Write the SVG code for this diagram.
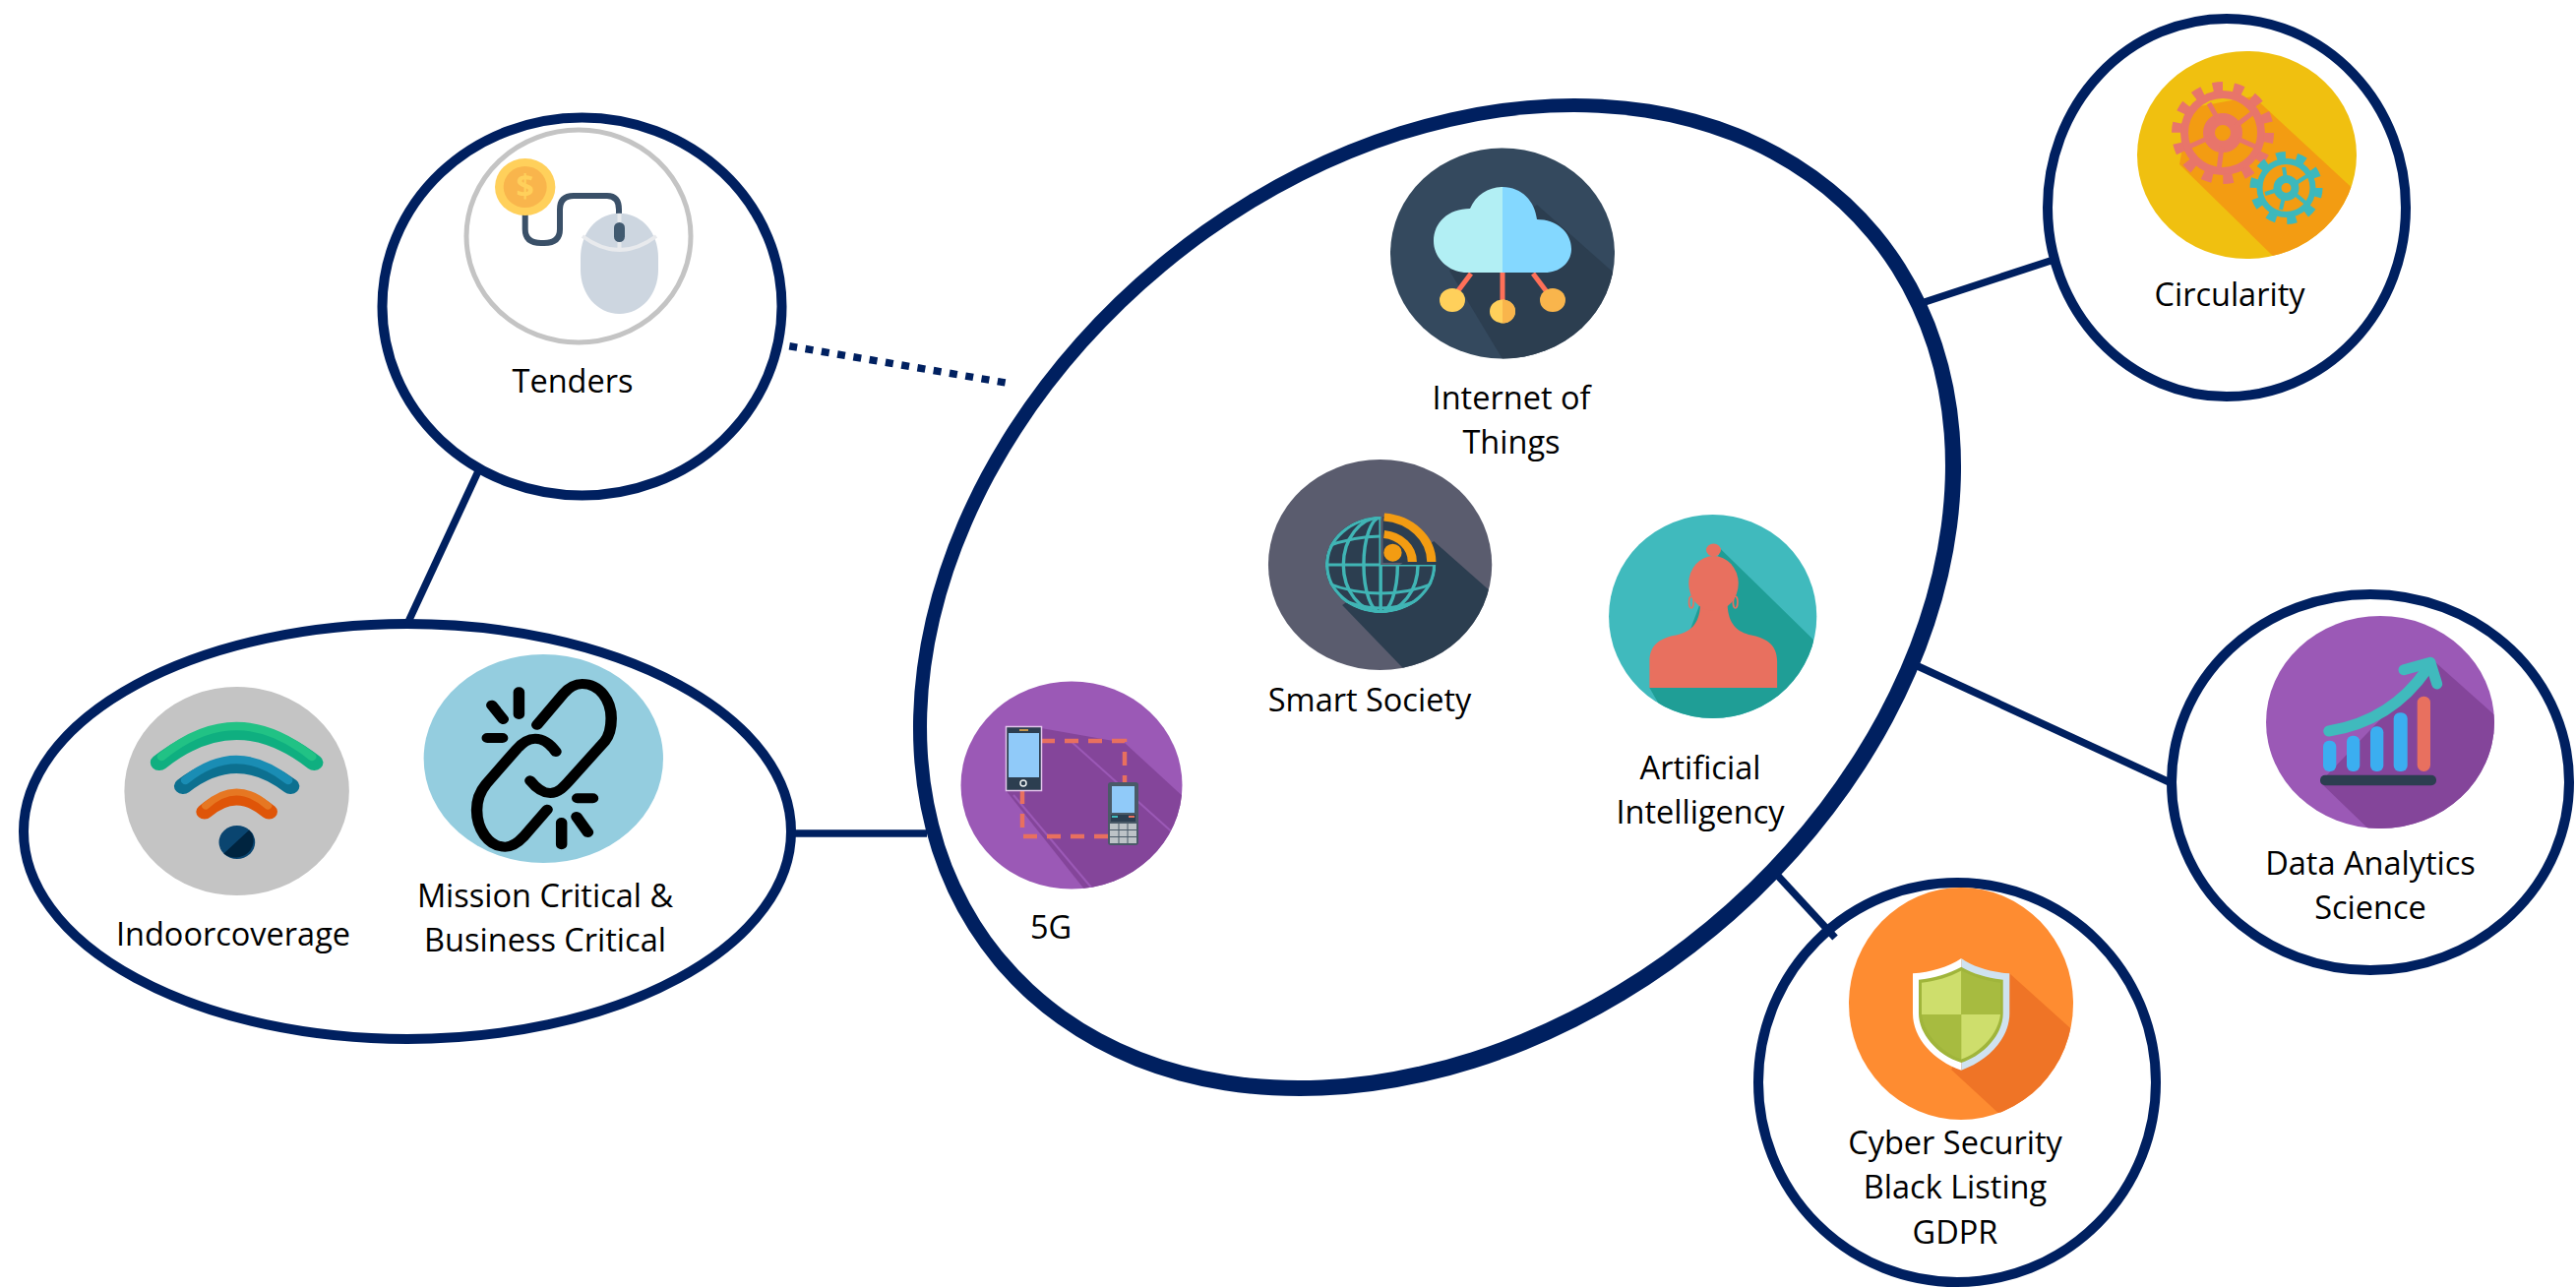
<svg xmlns="http://www.w3.org/2000/svg" width="2618" height="1309" viewBox="0 0 2618 1309">
<style>
.n{fill:#fff;stroke:#002060;stroke-width:10}
.c{fill:none;stroke:#002060;stroke-width:7.500}
text{font-family:"Open Sans","Liberation Sans",sans-serif;font-size:32.500px;fill:#000;text-anchor:middle}
.bk{fill:none;stroke:#000;stroke-width:10;stroke-linecap:round;stroke-linejoin:round}
.gl{fill:none;stroke:#40B5B5;stroke-width:3}
</style>
<defs>
<clipPath id="cIot"><ellipse cx="1527" cy="257.5" rx="114" ry="107"/></clipPath>
<clipPath id="cSm"><ellipse cx="1385.5" cy="574" rx="99" ry="107"/></clipPath>
<clipPath id="cAi"><ellipse cx="1680" cy="626.5" rx="92" ry="103.5"/></clipPath>
<clipPath id="c5g"><ellipse cx="1089" cy="798" rx="112.5" ry="105.5"/></clipPath>
<clipPath id="cGe"><ellipse cx="2283.5" cy="157.5" rx="111.5" ry="105.5"/></clipPath>
<clipPath id="cDa"><ellipse cx="2419" cy="734" rx="116" ry="108"/></clipPath>
<clipPath id="cCy"><ellipse cx="1993" cy="1020" rx="114" ry="118"/></clipPath>
<clipPath id="cGlobe"><path d="M1386 574V525A49 49 0 0 0 1337 574A49 49 0 0 0 1435 574Z"/></clipPath>
</defs>

<g id="node-main">
<ellipse fill="#002060" cx="1460.500" cy="607" rx="585" ry="445.500" transform="rotate(-39.700 1460.500 607)"/>
<ellipse fill="#fff" cx="1459.500" cy="606" rx="570" ry="430" transform="rotate(-39.700 1459.500 606)"/>
</g>

<g id="node-iot">
<ellipse cx="1527" cy="257.5" rx="114" ry="107" fill="#34495E"/>
<polygon clip-path="url(#cIot)" points="1562,208 1650,286 1650,370 1530,370 1473,275" fill="#2C3E50"/>
<g stroke="#FF7058" stroke-width="5"><line x1="1495" y1="278" x2="1480" y2="298"/><line x1="1527" y1="277" x2="1527" y2="306"/><line x1="1558" y1="278" x2="1573" y2="298"/></g>
<path d="M1527 277H1491C1472 277 1457 262 1457 245C1457 226 1472 212 1494 212C1500 198 1513 190 1527 190Z" fill="#B2EFF4"/>
<path d="M1527 190C1547 190 1560 205 1562 223C1582 223 1597 236 1597 253C1597 267 1585 277 1570 277H1527Z" fill="#84D8FF"/>
<ellipse cx="1476" cy="305" rx="13" ry="12" fill="#FFD05B"/>
<ellipse cx="1578" cy="305" rx="13" ry="12" fill="#F9B54C"/>
<ellipse cx="1527" cy="316.5" rx="13" ry="12" fill="#FFD05B"/>
<path d="M1527 304.500A13 12 0 0 1 1527 328.500Z" fill="#F9B54C"/>
<text x="1536" y="416">Internet of</text>
<text x="1536" y="461">Things</text>
</g>

<g id="node-smart">
<g transform="matrix(1.148 0 0 1 -187.960 0)">
<ellipse cx="1385.500" cy="574" rx="99" ry="107" fill="#5A5C6E"/>
<polygon clip-path="url(#cSm)" points="1433,550 1490,608 1490,690 1415,690 1352,615" fill="#2C3E50"/>
<path d="M1386 574V525A49 49 0 0 0 1337 574A49 49 0 0 0 1435 574Z" fill="#2C3E50"/>
<path d="M1388 572V525A47 47 0 0 1 1435 572Z" fill="#2C3E50"/>
<g clip-path="url(#cGlobe)">
<circle class="gl" cx="1386" cy="574" r="47.500"/>
<ellipse class="gl" cx="1386" cy="574" rx="15" ry="48"/>
<ellipse class="gl" cx="1386" cy="574" rx="33" ry="48"/>
<line class="gl" x1="1386" y1="525" x2="1386" y2="623"/>
<line class="gl" x1="1337" y1="574" x2="1435" y2="574"/>
<path class="gl" d="M1337 556Q1386 534 1435 556M1337 592Q1386 614 1435 592M1345 606Q1386 630 1427 606M1337 535Q1386 514 1435 535"/>
</g>
<g fill="none" stroke="#F39C12" stroke-width="8"><path d="M1389 525.500A46 46 0 0 1 1431 571"/><path d="M1389 543A28 28 0 0 1 1414 571"/></g>
<ellipse cx="1396.700" cy="561.700" rx="8" ry="9" fill="#F39C12"/>
</g>
<text x="1392" y="723">Smart Society</text>
</g>

<g id="node-ai">
<g transform="matrix(1.148 0 0 1 -187.960 0)">
<ellipse cx="1680" cy="626.500" rx="92" ry="103.500" fill="#40BABD"/>
<polygon clip-path="url(#cAi)" points="1687,558 1769,650 1790,740 1642,735 1624,699 1660,640" fill="#1F9E96"/>
<path d="M1624 699V672C1624 655 1634 649 1645 646C1660 643 1668 635 1669 615H1693C1694 635 1702 643 1716 646C1727 649 1737 655 1737 672V699Z" fill="#E8705F"/>
<ellipse cx="1680.700" cy="593" rx="22" ry="28" fill="#E8705F"/>
<circle cx="1680.700" cy="559" r="6.500" fill="#E8705F"/>
<g fill="none" stroke="#E8705F" stroke-width="1.500"><ellipse cx="1661" cy="612" rx="2" ry="6"/><ellipse cx="1700" cy="612" rx="2" ry="6"/></g>
</g>
<text x="1728" y="792">Artificial</text>
<text x="1728" y="837">Intelligency</text>
</g>

<g id="node-5g">
<ellipse cx="1089" cy="798" rx="112.500" ry="105.500" fill="#9B59B6"/>
<polygon clip-path="url(#c5g)" points="1058,740 1143,755 1205,812 1205,910 1107,910 1022,803" fill="#84459A"/>
<g clip-path="url(#c5g)" stroke="#9B59B6" stroke-width="2" fill="none"><line x1="1088" y1="753" x2="1205" y2="858"/><line x1="1030" y1="808" x2="1110" y2="903"/></g>
<path d="M1058 753H1143V795M1039 803V850H1126" fill="none" stroke="#E8705F" stroke-width="4.500" stroke-dasharray="14 10"/>
<rect x="1022.500" y="738.500" width="36" height="65" fill="#2C3E50" stroke="#E3C6EC" stroke-width="1.500"/>
<rect x="1025" y="745" width="31" height="45" fill="#90CAF9"/>
<line x1="1036" y1="742" x2="1045" y2="742" stroke="#F9B54C" stroke-width="1.500"/>
<circle cx="1040" cy="796" r="3" fill="none" stroke="#ECF0F1" stroke-width="1.500"/>
<rect x="1126" y="795" width="31" height="64" rx="3" fill="#4A5A68"/>
<rect x="1130" y="799" width="23" height="27" fill="#90CAF9"/>
<rect x="1129" y="828" width="25" height="7" fill="#2C3E50"/>
<rect x="1130" y="829" width="6" height="2" fill="#40BABD"/><rect x="1147" y="829" width="6" height="2" fill="#E8705F"/>
<rect x="1128" y="837" width="27" height="20" fill="#BDC3C7"/>
<path d="M1137 837V857M1146 837V857M1128 843.500H1155M1128 850.500H1155" stroke="#4A5A68" stroke-width="1" fill="none"/>
<text x="1068" y="954">5G</text>
</g>

<g id="node-tenders">
<ellipse class="n" cx="591.500" cy="311.500" rx="203" ry="192"/>
<ellipse cx="588" cy="240" rx="114" ry="108" fill="#fff" stroke="#C4C4C4" stroke-width="5"/>
<path d="M533.700 218V233Q533.700 247 550 247H553Q569 247 569 233V213Q569 199 583 199H617Q629 199 629 213V218" fill="none" stroke="#3A5068" stroke-width="6"/>
<ellipse cx="533.700" cy="190" rx="30.700" ry="29" fill="#FFD05B"/>
<ellipse cx="533.700" cy="190" rx="22" ry="21" fill="#F9B54C"/>
<text x="533.700" y="201" style="font-size:32px;font-weight:700;fill:#FFD05B">$</text>
<path d="M590 262C590 236 607 216.700 629.500 216.700C652 216.700 669 236 669 262V274C669 299 652 319 629.500 319C607 319 590 299 590 274Z" fill="#CDD6E0"/>
<path d="M592 240Q629.500 268 667 240M629.500 217V226M629.500 246V254" fill="none" stroke="#E8EAED" stroke-width="4"/>
<rect x="624" y="226" width="11" height="20" rx="5.500" fill="#415A70"/>
<text x="582" y="399">Tenders</text>
</g>

<g id="node-left">
<ellipse class="n" cx="414" cy="845" rx="390" ry="211"/>
<g id="node-indoor">
<g transform="matrix(1.148 0 0 1 -14.800 0)">
<ellipse cx="222.500" cy="804" rx="99.500" ry="106" fill="#C4C4C4"/>
<g fill="none" stroke-linecap="round">
<path d="M154 775Q222 713 291 775" stroke="#0FAF80" stroke-width="16"/>
<path d="M156 769Q222 707 289 769" stroke="#21C285" stroke-width="8"/>
<path d="M175 799Q222 757 270 799" stroke="#0C7090" stroke-width="16"/>
<path d="M177 793Q222 751 268 793" stroke="#1A8DB4" stroke-width="8"/>
<path d="M194 825Q222 797 251 825" stroke="#DF5508" stroke-width="15"/>
<path d="M195 819Q222 791 250 819" stroke="#E67722" stroke-width="7"/>
</g>
<ellipse cx="222.700" cy="856" rx="16" ry="17" fill="#0A4570"/>
<path d="M233.500 843.500A16 17 0 0 1 211 867.500Z" fill="#00243F"/>
</g>
<text x="237" y="961">Indoorcoverage</text>
</g>
<g id="node-mission">
<g transform="matrix(1.148 0 0 1 -14.800 0)">
<ellipse cx="494" cy="771" rx="106" ry="106" fill="#94CDDF"/>
<path class="bk" d="M488.300 736.700L511.700 705C517 698 522 695 528.300 695C544 695 554 712 554 730C554 738 552 748 548.300 753.300L518.300 791.700C512 800 507 806 500 806C493 806 487 800 482.300 793.300"/>
<path class="bk" d="M497.300 822.700L476.700 850C471 857 466 860.700 460 860.700C445 860.700 435 842 435 823.300C435 812 438 804 443.300 796.700L470 761.700C475 755 480 750.700 486.700 750.700C494 750.700 500 756 505 764"/>
<path class="bk" d="M448.300 716.700L458.300 731M472.300 703.300V726M444.300 750H457.700M524 811.300H537.700M510 836V858.300M523.300 830L533.300 846"/>
</g>
<text x="554" y="922">Mission Critical &amp;</text>
<text x="554" y="967">Business Critical</text>
</g>
</g>

<g id="node-circularity">
<ellipse class="n" cx="2263" cy="211" rx="182" ry="192"/>
<ellipse cx="2283.500" cy="157.500" rx="111.500" ry="105.500" fill="#F0C010"/>
<polygon clip-path="url(#cGe)" points="2290,98 2400,200 2400,270 2320,270 2215,167 2225,110" fill="#F39C12"/>
<g fill="none" stroke="#E8756A">
<circle cx="2259" cy="135" r="39" stroke-width="8"/>
<circle cx="2259" cy="135" r="47" stroke-width="10" stroke-dasharray="10.100 11"/>
<circle cx="2259" cy="135" r="14" stroke-width="12"/>
<path d="M2245 105L2254 121M2289 115L2272 128M2292 149L2274 141M2255 173L2258 149M2225 149L2245 140" stroke-width="5"/>
</g>
<g fill="none" stroke="#3DB8BC">
<circle cx="2323.500" cy="191" r="27" stroke-width="6"/>
<circle cx="2323.500" cy="191" r="33" stroke-width="8" stroke-dasharray="9.500 11.230"/>
<circle cx="2323.500" cy="191" r="9" stroke-width="8"/>
<path d="M2321 170L2323 182M2346 178L2332 187M2343 206L2331 196M2318 213L2321 200M2302 197L2315 193" stroke-width="4"/>
</g>
<text x="2266" y="311">Circularity</text>
</g>

<g id="node-data">
<ellipse class="n" cx="2409" cy="795" rx="202" ry="191"/>
<ellipse cx="2419" cy="734" rx="116" ry="108" fill="#9B59B6"/>
<polygon clip-path="url(#cDa)" points="2475,673 2540,731 2540,850 2415,850 2358,795" fill="#84459A"/>
<g fill="#3BAEF0"><rect x="2361" y="752.700" width="13.300" height="31.300" rx="6"/><rect x="2385" y="747.700" width="13.300" height="36.300" rx="6"/><rect x="2409" y="738.300" width="13.300" height="45.700" rx="6"/><rect x="2432.700" y="724.300" width="14" height="59.700" rx="6"/></g>
<rect x="2456.700" y="707.700" width="13.300" height="76.300" rx="6.500" fill="#E8705F"/>
<rect x="2358" y="787.700" width="118" height="10.500" rx="5" fill="#2C3E50"/>
<g fill="none" stroke="#40BABD" stroke-width="11" stroke-linecap="round" stroke-linejoin="round"><path d="M2366.700 743Q2430 733 2466.700 680"/><path d="M2443 680.700L2470 673.300L2476.700 695"/></g>
<text x="2409" y="889">Data Analytics</text>
<text x="2409" y="934">Science</text>
</g>

<g id="node-cyber">
<ellipse class="n" cx="1989" cy="1100" rx="202" ry="203"/>
<ellipse cx="1993" cy="1020" rx="114" ry="118" fill="#FE8C31"/>
<polygon clip-path="url(#cCy)" points="2042,989 2112,1052 2112,1145 2035,1135 1983,1087" fill="#EF7426"/>
<path d="M1993.300 974C1980 983 1962 988 1944 989.300V1030C1944 1055 1965 1078 1993.300 1087.700Z" fill="#fff"/>
<path d="M1993.300 974C2006 983 2024 988 2042.300 989.300V1030C2042.300 1055 2021 1078 1993.300 1087.700Z" fill="#CFE2F0"/>
<path d="M1993.300 982.700C1980 990 1966 994 1950 995.700V1030C1950 1050 1968 1072 1993.300 1080C2018 1072 2035.700 1050 2035.700 1030V995.700C2020 994 2006 990 1993.300 982.700Z" fill="#A0B53B"/>
<path d="M1993.300 986.500C1981 993 1968 997 1953 998.700V1031H1993.300Z" fill="#CEDE6C"/>
<path d="M1993.300 986.500C2006 993 2018 997 2033 998.700V1031H1993.300Z" fill="#A7BB40"/>
<path d="M1953 1031C1955 1050 1972 1069 1993.300 1076.500V1031Z" fill="#A7BB40"/>
<path d="M2033 1031C2031 1050 2014 1069 1993.300 1076.500V1031Z" fill="#CEDE6C"/>
<text x="1987" y="1173">Cyber Security</text>
<text x="1987" y="1218">Black Listing</text>
<text x="1987" y="1264">GDPR</text>
</g>

<g id="connectors">
<line class="c" x1="486" y1="479" x2="414" y2="634"/>
<line class="c" x1="808" y1="847" x2="942" y2="847"/>
<line class="c" x1="786" y1="349" x2="1028" y2="390" stroke-dasharray="8 8.500"/>
<line class="c" x1="1956" y1="307" x2="2087" y2="264"/>
<line class="c" x1="1949" y1="677" x2="2207" y2="796"/>
<line class="c" x1="1805" y1="888" x2="1865" y2="953"/>
</g>
</svg>
